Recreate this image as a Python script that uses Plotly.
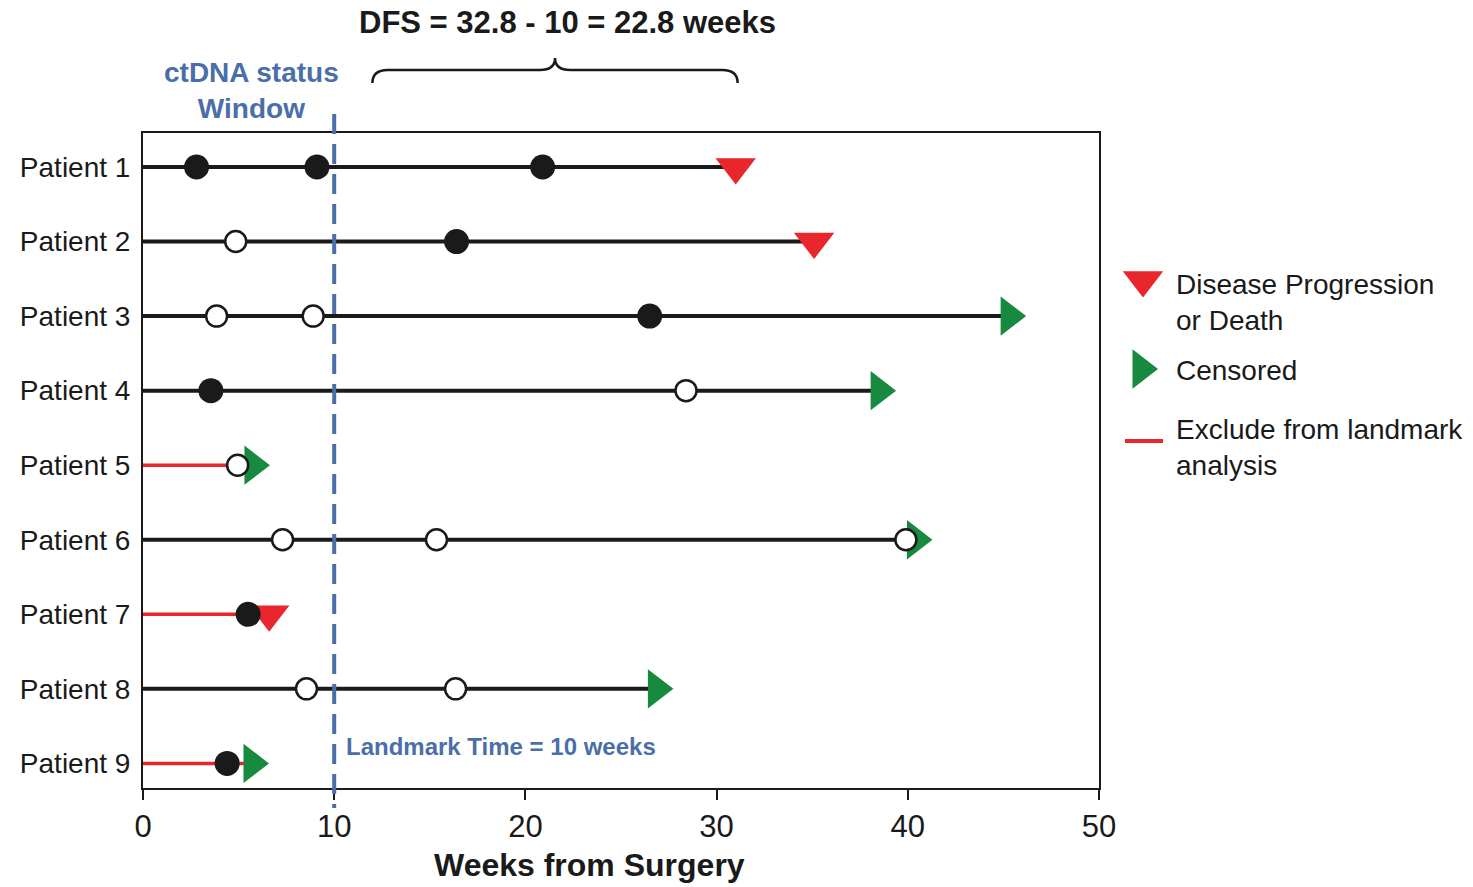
import plotly.graph_objects as go

# ---- data -------------------------------------------------------------
patients = [f"Patient {i}" for i in range(1, 10)]
# time of last follow-up / event (weeks from surgery)
end_weeks = [31.0, 35.1, 45.3, 38.5, 5.75, 40.4, 6.6, 26.85, 5.7]
# "event" = disease progression or death, "censored" otherwise
outcome = ["event", "event", "censored", "censored", "censored",
           "censored", "event", "censored", "censored"]
# ctDNA draws: positive (filled) and negative (open) results, weeks
ctdna_pos = [[2.8, 9.1, 20.9], [16.4], [26.5], [3.55], [], [], [5.5], [], [4.4]]
ctdna_neg = [[], [4.85], [3.85, 8.9], [28.4], [4.95], [7.3, 15.35, 39.9], [], [8.55, 16.35], []]
landmark = 10
dfs_span = [12.0, 31.1]          # bracketed disease-free interval
x_ticks = [0, 10, 20, 30, 40, 50]

# ---- styles -----------------------------------------------------------
FONT = "Liberation Sans, Arial, Helvetica, sans-serif"
BLACK = "#1a1a1a"
RED = "#e8262b"
GREEN = "#178a3f"
BLUE = "#4a6fa8"
W, H = 1473, 887

fig = go.Figure()

# follow-up lines (red when the patient drops out before the landmark)
for name, end in zip(patients, end_weeks):
    excluded = end < landmark
    fig.add_trace(go.Scatter(
        x=[0, end], y=[name, name], mode="lines",
        line=dict(color=RED if excluded else BLACK, width=3.5 if excluded else 4),
        hoverinfo="skip", showlegend=False, cliponaxis=False))

# terminal markers
ev_x = [e for e, o in zip(end_weeks, outcome) if o == "event"]
ev_y = [p for p, o in zip(patients, outcome) if o == "event"]
ce_x = [e for e, o in zip(end_weeks, outcome) if o == "censored"]
ce_y = [p for p, o in zip(patients, outcome) if o == "censored"]
fig.add_trace(go.Scatter(x=ev_x, y=ev_y, mode="markers", cliponaxis=False,
                         marker=dict(symbol="triangle-down", size=35, color=RED, line=dict(width=0)),
                         showlegend=False))
fig.add_trace(go.Scatter(x=ce_x, y=ce_y, mode="markers", cliponaxis=False,
                         marker=dict(symbol="triangle-right", size=34, color=GREEN, line=dict(width=0)),
                         showlegend=False))

# ctDNA results
px_, py_ = [], []
for name, draws in zip(patients, ctdna_pos):
    px_ += draws
    py_ += [name] * len(draws)
nx_, ny_ = [], []
for name, draws in zip(patients, ctdna_neg):
    nx_ += draws
    ny_ += [name] * len(draws)
fig.add_trace(go.Scatter(x=nx_, y=ny_, mode="markers", cliponaxis=False,
                         marker=dict(symbol="circle", size=21, color="white",
                                     line=dict(color=BLACK, width=2.5)),
                         showlegend=False))
fig.add_trace(go.Scatter(x=px_, y=py_, mode="markers", cliponaxis=False,
                         marker=dict(symbol="circle", size=25, color=BLACK, line=dict(width=0)),
                         showlegend=False))

# legend symbols on a full-page pixel overlay
fig.add_trace(go.Scatter(x=[1143], y=[280], xaxis="x2", yaxis="y2", mode="markers",
                         marker=dict(symbol="triangle-down", size=35, color=RED, line=dict(width=0)),
                         showlegend=False, hoverinfo="skip"))
fig.add_trace(go.Scatter(x=[1141], y=[369], xaxis="x2", yaxis="y2", mode="markers",
                         marker=dict(symbol="triangle-right", size=34, color=GREEN, line=dict(width=0)),
                         showlegend=False, hoverinfo="skip"))
fig.add_trace(go.Scatter(x=[1125, 1163], y=[441, 441], xaxis="x2", yaxis="y2", mode="lines",
                         line=dict(color=RED, width=4), showlegend=False, hoverinfo="skip"))

# landmark line
fig.add_shape(type="line", xref="x", yref="y2", x0=landmark, x1=landmark, y0=114, y1=808,
              line=dict(color=BLUE, width=4, dash="20px,10px"), layer="above")

# brace over the disease-free interval
bl, br = dfs_span
bm = (bl + br) / 2
d = 0.8
brace = (f"M {bl},83 Q {bl},70 {bl + d},70 L {bm - d},70 "
         f"Q {bm},70 {bm},58 Q {bm},70 {bm + d},70 "
         f"L {br - d},70 Q {br},70 {br},83")
fig.add_shape(type="path", xref="x", yref="y2", path=brace,
              line=dict(color=BLACK, width=2.5))

ann = []
ann.append(dict(x=567, y=22, text="<b>DFS = 32.8 - 10 = 22.8 weeks</b>",
                font=dict(size=31, color=BLACK, family=FONT)))
ann.append(dict(x=251, y=90, text="<b>ctDNA status<br>Window</b>",
                font=dict(size=28, color=BLUE, family=FONT)))
ann.append(dict(x=344, y=746, text="<b>Landmark Time = 10 weeks</b>", xanchor="left",
                font=dict(size=24, color=BLUE, family=FONT)))
ann.append(dict(x=589, y=865, text="<b>Weeks from Surgery</b>",
                font=dict(size=32, color=BLACK, family=FONT)))
ann.append(dict(x=1174, y=302, text="Disease Progression<br>or Death", xanchor="left", align="left",
                font=dict(size=28, color=BLACK, family=FONT)))
ann.append(dict(x=1174, y=370, text="Censored", xanchor="left", align="left",
                font=dict(size=28, color=BLACK, family=FONT)))
ann.append(dict(x=1174, y=447, text="Exclude from landmark<br>analysis", xanchor="left", align="left",
                font=dict(size=28, color=BLACK, family=FONT)))
for a in ann:
    a.update(xref="x2", yref="y2", showarrow=False)
    a.setdefault("xanchor", "center")
    a.setdefault("yanchor", "middle")

fig.update_layout(
    width=W, height=H, template="none",
    margin=dict(l=0, r=0, t=0, b=0),
    paper_bgcolor="white", plot_bgcolor="rgba(0,0,0,0)",
    showlegend=False,
    annotations=ann,
    xaxis=dict(domain=[143 / W, 1099 / W], range=[0, 50], tickvals=x_ticks,
               ticks="outside", ticklen=10, tickwidth=2, tickcolor=BLACK,
               showline=True, linecolor=BLACK, linewidth=2, mirror=True,
               showgrid=False, zeroline=False, automargin=False,
               tickfont=dict(size=31, color=BLACK, family=FONT), anchor="y"),
    yaxis=dict(domain=[99 / H, 754 / H], type="category", categoryarray=patients,
               range=[8.33, -0.456], ticks="", ticklabelstandoff=5,
               showline=True, linecolor=BLACK, linewidth=2, mirror=True,
               showgrid=False, zeroline=False, automargin=False,
               tickfont=dict(size=28, color=BLACK, family=FONT), anchor="x"),
    xaxis2=dict(domain=[0, 1], range=[0, W], visible=False, anchor="y2",
                fixedrange=True, automargin=False),
    yaxis2=dict(domain=[0, 1], range=[H, 0], visible=False, anchor="x2",
                fixedrange=True, automargin=False),
)

fig.write_html("out.html")
